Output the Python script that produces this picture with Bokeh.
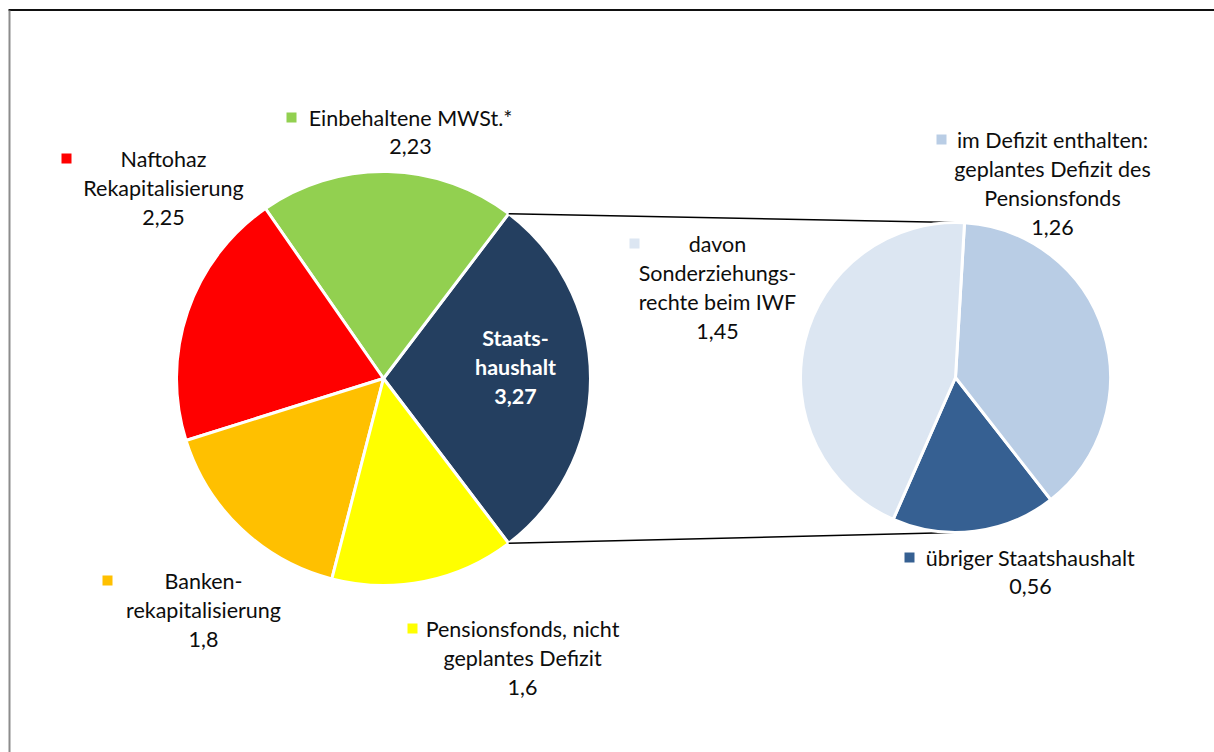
import numpy as np
from bokeh.plotting import figure
from bokeh.models import Range1d
from bokeh.embed import file_html
from bokeh.resources import INLINE
from bokeh.core.properties import value

# ---------------- data ----------------
main_categories = ["Staatshaushalt", "Einbehaltene MWSt.*", "Naftohaz Rekapitalisierung",
                   "Bankenrekapitalisierung", "Pensionsfonds, nicht geplantes Defizit"]
main_values = [3.27, 2.23, 2.25, 1.8, 1.6]
main_label_lines = [["Staats-", "haushalt"], ["Einbehaltene MWSt.*"], ["Naftohaz", "Rekapitalisierung"],
                    ["Banken-", "rekapitalisierung"], ["Pensionsfonds, nicht", "geplantes Defizit"]]
main_colors = ["#243F60", "#92D050", "#FF0000", "#FFC000", "#FFFF00"]

sub_categories = ["übriger Staatshaushalt", "im Defizit enthalten: geplantes Defizit des Pensionsfonds",
                  "davon Sonderziehungsrechte beim IWF"]
sub_values = [0.56, 1.26, 1.45]
sub_label_lines = [["übriger Staatshaushalt"], ["im Defizit enthalten:", "geplantes Defizit des", "Pensionsfonds"],
                   ["davon", "Sonderziehungs-", "rechte beim IWF"]]
sub_colors = ["#366092", "#B9CDE5", "#DCE6F2"]

# ---------------- layout (pixel positions of the reference) ----------------
W, H = 1214, 752
def X(ix): return ix
def Y(iy): return H - iy

main_c = (X(383), Y(378)); main_r = 207
sub_c = (X(955), Y(377)); sub_r = 155
sub_rotation = np.deg2rad(-113.7)
line_step = 29.3
FONT = "Lato"
FSIZE = "21.5px"

# label layout: (center x, first line y, marker x or None)
main_label_pos = [(515, 337, None), (410, 117, 291), (163, 158, 66), (203, 580, 107), (522, 628, 412)]
sub_label_pos = [(1030, 557, 909), (1052, 139, 941), (717, 243, 634)]

p = figure(width=W, height=H, x_range=Range1d(0, W), y_range=Range1d(0, H),
           output_backend="svg", toolbar_location=None, min_border=0)
p.axis.visible = False
p.grid.visible = False
p.outline_line_color = None
p.background_fill_color = "white"
p.border_fill_color = "white"

# chart border (top dark, left grey)
p.segment(x0=[8], y0=[Y(9.5)], x1=[W], y1=[Y(9.5)], line_color="#111111", line_width=2)
p.segment(x0=[9], y0=[Y(10)], x1=[9], y1=[0], line_color="#8c8c8c", line_width=2)

# ---------------- main pie ----------------
mv = np.array(main_values)
mang = mv / mv.sum() * 2 * np.pi
m_start = -mang[0] / 2 + np.concatenate([[0], np.cumsum(mang)[:-1]])
m_end = m_start + mang
p.wedge(x=[main_c[0]] * len(mv), y=[main_c[1]] * len(mv), radius=main_r,
        start_angle=list(m_start), end_angle=list(m_end), direction="anticlock",
        fill_color=main_colors, line_color="white", line_width=3)

# ---------------- connector lines ----------------
ux = main_c[0] + main_r * np.cos(m_end[0]); uy = main_c[1] + main_r * np.sin(m_end[0])
lx = main_c[0] + main_r * np.cos(m_start[0]); ly = main_c[1] + main_r * np.sin(m_start[0])
p.segment(x0=[ux, lx], y0=[uy, ly], x1=[sub_c[0], sub_c[0]], y1=[sub_c[1] + sub_r, sub_c[1] - sub_r],
          line_color="#000000", line_width=1.5)

# ---------------- sub pie ----------------
sv = np.array(sub_values)
sang = sv / sv.sum() * 2 * np.pi
s_start = sub_rotation + np.concatenate([[0], np.cumsum(sang)[:-1]])
s_end = s_start + sang
p.wedge(x=[sub_c[0]] * len(sv), y=[sub_c[1]] * len(sv), radius=sub_r,
        start_angle=list(s_start), end_angle=list(s_end), direction="anticlock",
        fill_color=sub_colors, line_color="white", line_width=3)

# ---------------- labels ----------------
def fmt(v):
    return ("%g" % v).replace(".", ",")

def add_label(lines, val, pos, color, marker_color, bold=False):
    cx, y0, mx = pos
    texts = list(lines) + [fmt(val)]
    xs = [X(cx)] * len(texts)
    ys = [Y(y0 + i * line_step) for i in range(len(texts))]
    p.text(x=xs, y=ys, text=texts, text_align="center", text_baseline="middle",
           text_font=value(FONT), text_font_size=FSIZE, text_color=color,
           text_font_style="bold" if bold else "normal")
    if mx is not None:
        p.scatter(x=[X(mx)], y=[Y(y0)], marker="square", size=10, fill_color=marker_color,
                  line_color=None)

for i in range(len(main_values)):
    if i == 0:
        add_label(main_label_lines[i], main_values[i], main_label_pos[i], "white", None, bold=True)
    else:
        add_label(main_label_lines[i], main_values[i], main_label_pos[i], "#0d0d0d", main_colors[i])
for i in range(len(sub_values)):
    add_label(sub_label_lines[i], sub_values[i], sub_label_pos[i], "#0d0d0d", sub_colors[i])

open("out.html", "w").write(file_html(p, INLINE))
